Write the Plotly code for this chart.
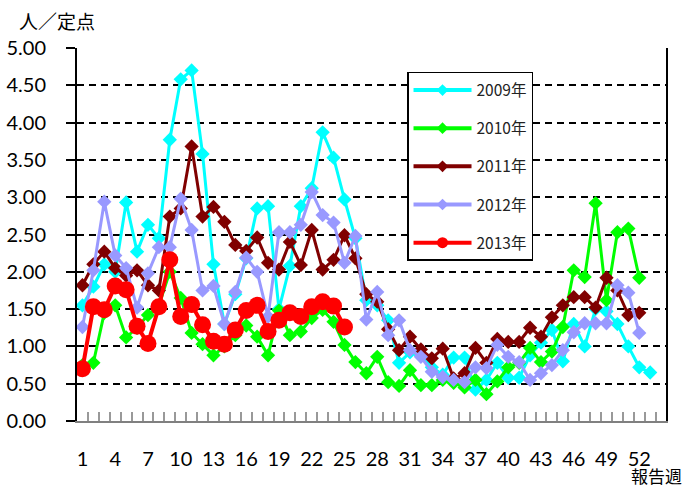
import plotly.graph_objects as go

weeks52 = list(range(1, 53))
weeks53 = list(range(1, 54))
weeks25 = list(range(1, 26))

y2009 = [1.55, 1.80, 2.10, 2.00, 2.93, 2.27, 2.63, 2.45, 3.77, 4.58,
         4.70, 3.58, 2.10, 1.30, 1.70, 2.18, 2.85, 2.88, 1.50, 2.08,
         2.88, 3.12, 3.87, 3.53, 2.97, 2.45, 1.62, 1.55, 1.35, 0.78,
         0.92, 0.88, 0.72, 0.62, 0.85, 0.85, 0.42, 0.55, 0.78, 0.58,
         0.58, 0.88, 1.05, 1.22, 0.80, 1.30, 1.00, 1.50, 1.47, 1.30,
         1.00, 0.72, 0.65]
y2010 = [0.75, 0.78, 1.45, 1.55, 1.12, 1.25, 1.42, 1.55, 2.00, 1.65,
         1.18, 1.03, 0.88, 1.00, 1.15, 1.28, 1.13, 0.88, 1.48, 1.15,
         1.20, 1.38, 1.49, 1.33, 1.02, 0.79, 0.64, 0.86, 0.52, 0.47,
         0.68, 0.48, 0.48, 0.55, 0.51, 0.45, 0.55, 0.36, 0.53, 0.72,
         0.78, 0.98, 0.79, 0.93, 1.26, 2.02, 1.93, 2.92, 1.62, 2.53,
         2.58, 1.92]
y2011 = [1.82, 2.10, 2.27, 2.05, 1.95, 2.02, 1.82, 1.75, 2.74, 2.85,
         3.68, 2.74, 2.87, 2.67, 2.36, 2.28, 2.46, 2.12, 2.03, 2.40,
         2.09, 2.56, 2.03, 2.16, 2.49, 2.18, 1.70, 1.60, 1.23, 0.95,
         1.13, 0.96, 0.84, 0.97, 0.57, 0.64, 0.98, 0.78, 1.10, 1.06,
         1.06, 1.25, 1.13, 1.39, 1.55, 1.66, 1.66, 1.52, 1.92, 1.75,
         1.42, 1.45]
y2012 = [1.26, 2.02, 2.94, 2.22, 2.05, 1.52, 1.98, 2.33, 2.33, 2.98,
         2.56, 1.75, 1.81, 1.30, 1.73, 2.19, 2.00, 1.40, 2.53, 2.53,
         2.63, 3.07, 2.76, 2.66, 2.12, 2.48, 1.36, 1.73, 1.15, 1.35,
         0.95, 0.86, 0.66, 0.59, 0.55, 0.52, 0.72, 0.71, 1.02, 0.86,
         0.79, 0.55, 0.64, 0.75, 0.95, 1.19, 1.31, 1.31, 1.31, 1.82,
         1.72, 1.18]
y2013 = [0.70, 1.53, 1.49, 1.81, 1.76, 1.27, 1.04, 1.53, 2.16, 1.40,
         1.56, 1.29, 1.07, 1.03, 1.22, 1.48, 1.55, 1.20, 1.35, 1.45,
         1.40, 1.53, 1.60, 1.54, 1.26]

xtick_vals = list(range(1, 53, 3))
xtick_text = [str(v) for v in xtick_vals]
ytick_vals = [0, 0.5, 1.0, 1.5, 2.0, 2.5, 3.0, 3.5, 4.0, 4.5, 5.0]
x_range = [0.5, 54.45]

series = [
    ("2009年", weeks53, y2009, "#00FFFF", "diamond", 11, 3),
    ("2010年", weeks52, y2010, "#00FF00", "diamond", 11, 3),
    ("2011年", weeks52, y2011, "#800000", "diamond", 11, 3),
    ("2012年", weeks52, y2012, "#9999FF", "diamond", 11, 3),
    ("2013年", weeks25, y2013, "#FF0000", "circle", 17, 4),
]

fig = go.Figure()
for i, (name, xs, ys, color, sym, msize, lw) in enumerate(series):
    fig.add_trace(go.Scatter(
        x=xs, y=ys, name=name, mode="lines+markers",
        line=dict(color=color, width=lw),
        marker=dict(symbol=sym, size=msize, color=color),
        showlegend=False,
    ))
# legend-only entries (small symbols as in the reference legend)
for i, (name, xs, ys, color, sym, msize, lw) in enumerate(series):
    fig.add_trace(go.Scatter(
        x=[None], y=[None], name=name, mode="lines+markers",
        line=dict(color=color, width=4),
        marker=dict(symbol=sym, size=9 if sym == "diamond" else 11, color=color),
        legendgroup=f"g{i}", showlegend=True,
    ))
# invisible trace to anchor the tick-mark axis
fig.add_trace(go.Scatter(x=[x_range[0]], y=[0], xaxis="x2", mode="markers",
                         marker=dict(size=1, color="rgba(0,0,0,0)"),
                         showlegend=False, hoverinfo="skip"))

fig.update_layout(
    width=685, height=490,
    margin=dict(l=77, r=19, t=48, b=69, autoexpand=False),
    paper_bgcolor="white", plot_bgcolor="white",
    font=dict(family="Lato, 'Noto Sans CJK JP'", size=20, color="black"),
    showlegend=True,
    legend=dict(
        x=0.5603, y=0.9357, xanchor="left", yanchor="top",
        bgcolor="white", bordercolor="black", borderwidth=1.5,
        font=dict(family="'Noto Sans CJK JP', sans-serif", size=15.5, color="#222"),
        traceorder="grouped", tracegroupgap=15, itemwidth=58,
    ),
    xaxis=dict(
        range=x_range, tickmode="array", tickvals=xtick_vals, ticktext=xtick_text,
        ticks="", showline=True, linecolor="#808080", linewidth=2,
        showgrid=False, zeroline=False, ticklabelstandoff=19, automargin=False,
    ),
    xaxis2=dict(
        range=x_range, overlaying="x", side="bottom", anchor="y",
        tickmode="linear", tick0=0.5, dtick=1, ticks="inside", ticklen=9,
        tickcolor="#999999", tickwidth=1.5, showticklabels=False,
        showline=False, showgrid=False, zeroline=False, automargin=False,
    ),
    yaxis=dict(
        range=[0, 5], tickmode="array", tickvals=ytick_vals, tickformat=".2f",
        ticks="outside", ticklen=9, tickcolor="black", tickwidth=1.5,
        showline=True, linecolor="black", linewidth=2, mirror=True,
        showgrid=True, gridcolor="black", gridwidth=1.5, griddash="7px,5px",
        zeroline=False, ticklabelstandoff=16, automargin=False,
    ),
    annotations=[
        dict(text="人／定点", xref="paper", yref="paper", x=-0.034, y=1.075,
             xanchor="center", yanchor="middle", showarrow=False,
             font=dict(family="'Noto Sans CJK JP'", size=19, color="black")),
        dict(text="報告週", xref="paper", yref="paper", x=1.03, y=0.0,
             yshift=-69, xanchor="right", yanchor="bottom", showarrow=False,
             font=dict(family="'Noto Sans CJK JP'", size=17, color="black")),
    ],
)

fig.write_html(
    "out.html",
    config={"displayModeBar": False},
    post_script="document.body.style.margin='0px';document.body.style.padding='0px';",
)
